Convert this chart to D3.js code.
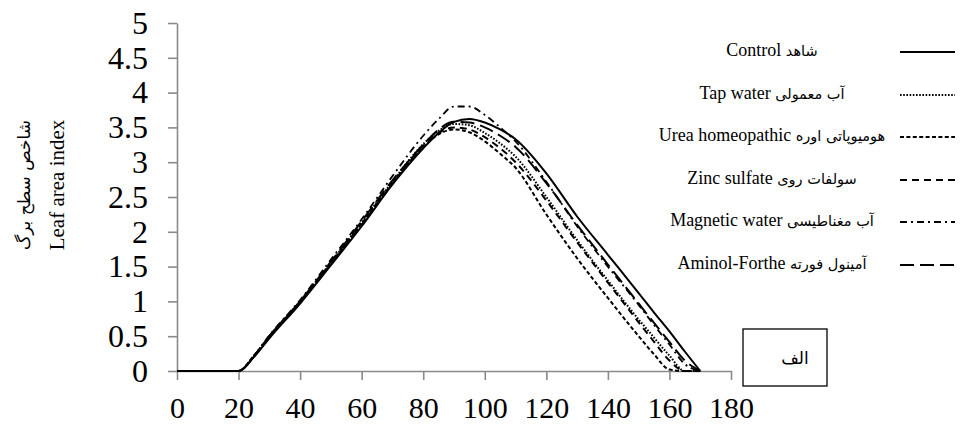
<!DOCTYPE html>
<html>
<head>
<meta charset="utf-8">
<script src="https://cdn.jsdelivr.net/npm/d3@7"></script>
<style>
  html, body { margin: 0; padding: 0; background: #fff; }
  svg { display: block; }
</style>
</head>
<body>
<svg id="chart" width="961" height="426"></svg>
<script>
// ---- data ----
const days = [0, 10, 20, 25, 30, 40, 50, 60, 70, 80, 85, 90, 95, 100, 105, 110, 120, 130, 140, 150, 155, 160, 165, 170];
const control   = [0, 0, 0, 0.20, 0.47, 0.97, 1.52, 2.08, 2.68, 3.20, 3.42, 3.58, 3.62, 3.57, 3.47, 3.33, 2.84, 2.22, 1.67, 1.12, 0.84, 0.57, 0.28, 0];
const tapWater  = [0, 0, 0, 0.22, 0.50, 1.00, 1.56, 2.13, 2.72, 3.26, 3.45, 3.55, 3.53, 3.42, 3.27, 3.08, 2.50, 1.88, 1.30, 0.74, 0.48, 0.22, 0, 0];
const urea      = [0, 0, 0, 0.22, 0.50, 1.00, 1.55, 2.12, 2.70, 3.22, 3.40, 3.47, 3.43, 3.30, 3.12, 2.92, 2.25, 1.62, 1.05, 0.50, 0.24, 0.02, 0, 0];
const zinc      = [0, 0, 0, 0.21, 0.49, 0.99, 1.54, 2.10, 2.69, 3.24, 3.42, 3.50, 3.47, 3.36, 3.20, 3.00, 2.45, 1.85, 1.27, 0.70, 0.42, 0.15, 0, 0];
const magnetic  = [0, 0, 0, 0.22, 0.51, 1.02, 1.60, 2.18, 2.80, 3.38, 3.62, 3.80, 3.80, 3.68, 3.50, 3.30, 2.72, 2.08, 1.50, 0.95, 0.66, 0.38, 0.10, 0];
const aminol    = [0, 0, 0, 0.21, 0.50, 1.00, 1.57, 2.15, 2.74, 3.25, 3.47, 3.58, 3.57, 3.50, 3.38, 3.22, 2.70, 2.10, 1.53, 0.97, 0.69, 0.42, 0.15, 0];

const seriesNames = ["Control", "Tap water", "Urea homeopathic", "Zinc sulfate", "Magnetic water", "Aminol-Forthe"];
const seriesNamesFa = ["شاهد", "آب معمولی", "هومیوپاتی اوره", "سولفات روی", "آب مغناطیسی", "آمینول فورته"];
const seriesValues = [control, tapWater, urea, zinc, magnetic, aminol];
const xTicks = [0, 20, 40, 60, 80, 100, 120, 140, 160, 180];
const yTicks = [0, 0.5, 1, 1.5, 2, 2.5, 3, 3.5, 4, 4.5, 5];
const yTitleFa = "شاخص سطح برگ";
const yTitleEn = "Leaf area index";
const panelLabel = "الف";

// ---- styles ----
const dashes = [null, "1.6,1.6", "4,2.4", "7,5", "7,4,2,4", "14,6"];
const widths = [2, 2, 2, 2, 1.8, 2];

const svg = d3.select("#chart");
const x = d3.scaleLinear().domain([0, 180]).range([177, 731]);
const y = d3.scaleLinear().domain([0, 5]).range([371, 23]);

const serif = "'Liberation Serif', 'Times New Roman', serif";
const axisColor = "#8a8a8a";

// y axis
const yAxis = svg.append("g").attr("transform", `translate(${x(0)},0)`)
  .call(d3.axisLeft(y).tickValues(yTicks).tickSize(9).tickSizeOuter(0).tickPadding(20).tickFormat(d => String(d)));
// x axis
const xAxis = svg.append("g").attr("transform", `translate(0,${y(0)})`)
  .call(d3.axisBottom(x).tickValues(xTicks).tickSize(9).tickSizeOuter(0).tickPadding(17).tickFormat(d => String(d)));

[yAxis, xAxis].forEach(g => {
  g.select(".domain").attr("stroke", axisColor).attr("stroke-width", 1.6);
  g.selectAll(".tick line").attr("stroke", axisColor).attr("stroke-width", 1.6);
  g.selectAll(".tick text").attr("fill", "#000").style("font-family", serif);
});
yAxis.selectAll(".tick text").style("font-size", "32px");
xAxis.selectAll(".tick text").style("font-size", "30px").attr("dy", "0.71em");

// lines
const line = d3.line().x((d, i) => x(days[i])).y(d => y(d)).curve(d3.curveMonotoneX);
seriesValues.forEach((vals, k) => {
  svg.append("path")
    .attr("d", line(vals))
    .attr("fill", "none")
    .attr("stroke", "#000")
    .attr("stroke-width", widths[k])
    .attr("stroke-dasharray", dashes[k]);
});

// legend
const legendY = [52, 95, 137, 180, 222, 265];
seriesNames.forEach((name, k) => {
  const t = svg.append("text")
    .attr("x", 772).attr("y", legendY[k])
    .attr("text-anchor", "middle")
    .attr("dominant-baseline", "middle")
    .attr("direction", "ltr")
    .style("font-family", serif);
  t.append("tspan").style("font-size", "18px").text(name + " ");
  t.append("tspan").style("font-size", "14.5px").style("font-family", "'DejaVu Sans', sans-serif").text(seriesNamesFa[k]);
  svg.append("line")
    .attr("x1", 900).attr("x2", 955)
    .attr("y1", legendY[k]).attr("y2", legendY[k])
    .attr("stroke", "#000")
    .attr("stroke-width", widths[k])
    .attr("stroke-dasharray", dashes[k]);
});

// y title
const yt = svg.append("g").attr("transform", "translate(0,185) rotate(-90)");
yt.append("text").attr("x", 0).attr("y", 30).attr("text-anchor", "middle")
  .style("font-family", "'DejaVu Sans', sans-serif").style("font-size", "17px").text(yTitleFa);
yt.append("text").attr("x", 0).attr("y", 64).attr("text-anchor", "middle")
  .style("font-family", serif).style("font-size", "21px").text(yTitleEn);

// panel label box
svg.append("rect").attr("x", 743).attr("y", 329).attr("width", 84).attr("height", 57)
  .attr("fill", "#fff").attr("stroke", "#000").attr("stroke-width", 1.3);
svg.append("text").attr("x", 795).attr("y", 359).attr("text-anchor", "middle")
  .attr("dominant-baseline", "middle")
  .style("font-family", "'DejaVu Sans', sans-serif").style("font-size", "17px").text(panelLabel);
</script>
</body>
</html>
